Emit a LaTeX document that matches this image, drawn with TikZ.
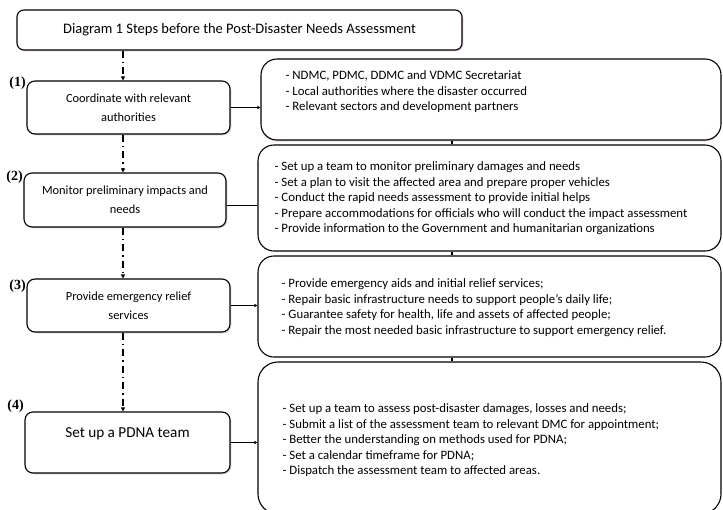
\documentclass[tikz,border=0pt]{standalone}
\usepackage{fontspec}
\setmainfont{Carlito}
\newfontfamily\numfont{Liberation Serif}
\usetikzlibrary{arrows.meta, positioning, shadows}

\begin{document}
\begin{tikzpicture}[
    x=1pt, y=-1pt,
    titlebox/.style={draw, line width=1.1pt, rounded corners=7pt, fill=white,
        drop shadow={shadow xshift=1.3pt, shadow yshift=-1.3pt, fill=violet!45},
        font=\fontsize{14.5}{17}\selectfont},
    stepbox/.style={draw, line width=1.1pt, rounded corners=8pt, fill=white, align=center,
        drop shadow={shadow xshift=1.3pt, shadow yshift=-1.3pt, fill=gray!70},
        font=\fontsize{12.4}{19}\selectfont},
    infobox/.style={draw, line width=1.1pt, rounded corners=16pt, fill=white},
    infotext/.style={anchor=north west, inner sep=0pt, align=left,
        font=\fontsize{12.8}{15.5}\selectfont},
    steplabel/.style={font=\numfont\bfseries\fontsize{14}{16}\selectfont, inner sep=0.5pt},
    flow/.style={-{Triangle[length=4pt,width=4pt]}, line width=2pt,
        dash pattern=on 7pt off 4pt on 1.5pt off 4pt},
    link/.style={-{Triangle[length=3pt,width=3pt]}, line width=0.8pt},
    tick/.style={line width=1.2pt}
]
\useasboundingbox (0,0) rectangle (723,509);
\clip (0,0) rectangle (723,509);

% Title
\node[titlebox, minimum width=445pt, minimum height=40pt] (title) at (239.5,30)
    {Diagram 1 Steps before the Post-Disaster Needs Assessment};

% Steps
\node[stepbox, minimum width=203pt, minimum height=53pt] (s1) at (128.5,107.5)
    {Coordinate with relevant\\authorities};
\node[stepbox, minimum width=202pt, minimum height=54pt] (s2) at (125,200)
    {Monitor preliminary impacts and\\needs};
\node[stepbox, minimum width=203pt, minimum height=53pt] (s3) at (128.5,305.5)
    {Provide emergency relief\\services};
\node[stepbox, minimum width=205pt, minimum height=61pt, font=\fontsize{15.2}{18}\selectfont] (s4) at (127.5,442.5)
    {Set up a PDNA team\\[2pt]};

\node[steplabel, anchor=east] (lab1) at ([yshift=-3pt]s1.north west) {(1)};
\node[steplabel, anchor=east] (lab2) at ([yshift=-5pt]s2.north west) {(2)};
\node[steplabel, anchor=east] (lab3) at ([yshift=-8pt]s3.north west) {(3)};
\node[steplabel, anchor=east] (lab4) at ([yshift=5pt]s4.north west) {(4)};

% Details
\node[infobox, minimum width=460pt, minimum height=81pt,
      drop shadow={shadow xshift=0pt, shadow yshift=-1.5pt, fill=violet!35}] (r1) at (491,99.5) {};
\node[infobox, minimum width=463pt, minimum height=106pt] (r2) at (489.5,198) {};
\node[infobox, minimum width=463pt, minimum height=101pt] (r3) at (489.5,306.5) {};
\node[infobox, minimum width=463pt, minimum height=152pt, rounded corners=20pt] (r4) at (489.5,438) {};

\node[infotext] (t1) at ([shift={(25,12)}]r1.north west)
    {- NDMC, PDMC, DDMC and VDMC Secretariat\\
     - Local authorities where the disaster occurred\\
     - Relevant sectors and development partners};
\node[infotext] (t2) at ([shift={(17,17)}]r2.north west)
    {- Set up a team to monitor preliminary damages and needs\\
     - Set a plan to visit the affected area and prepare proper vehicles\\
     - Conduct the rapid needs assessment to provide initial helps\\
     - Prepare accommodations for officials who will conduct the impact assessment\\
     - Provide information to the Government and humanitarian organizations};
\node[infotext] (t3) at ([shift={(24,23)}]r3.north west)
    {- Provide emergency aids and initial relief services;\\
     - Repair basic infrastructure needs to support people’s daily life;\\
     - Guarantee safety for health, life and assets of affected people;\\
     - Repair the most needed basic infrastructure to support emergency relief.};
\node[infotext] (t4) at ([shift={(25,42)}]r4.north west)
    {- Set up a team to assess post-disaster damages, losses and needs;\\
     - Submit a list of the assessment team to relevant DMC for appointment;\\
     - Better the understanding on methods used for PDNA;\\
     - Set a calendar timeframe for PDNA;\\
     - Dispatch the assessment team to affected areas.};

% Arrows
\coordinate (spine) at (123,0);
\coordinate (joint) at (452,0);
\draw[flow] (title.south -| spine) -- (s1.north -| spine);
\draw[flow] (s1.south -| spine) -- (s2.north -| spine);
\draw[flow] (s2.south -| spine) -- (s3.north -| spine);
\draw[flow] (s3.south -| spine) -- (s4.north -| spine);

\draw[link] (s1.east) -- (s1.east -| r1.west);
\draw[line width=0.8pt] ([yshift=-5pt]s2.east) -- ([yshift=-5pt]s2.east -| r2.west);
\draw[link] (s3.east) -- (s3.east -| r3.west);
\draw[link] (s4.east) -- (s4.east -| r4.west);

\draw[tick] (r1.south -| joint) -- (r2.north -| joint);
\draw[tick] (r2.south -| joint) -- (r3.north -| joint);
\draw[tick] (r3.south -| joint) -- (r4.north -| joint);

\end{tikzpicture}
\end{document}
